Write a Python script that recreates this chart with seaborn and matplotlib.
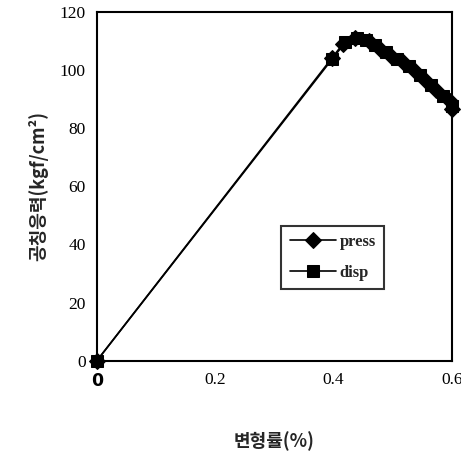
import numpy as np
import pandas as pd
import matplotlib
matplotlib.use('Agg')
import matplotlib.pyplot as plt
import seaborn as sns

# ── data ─────────────────────────────────────────────────────
press_strain = [0.0, 0.397, 0.416, 0.436, 0.460, 0.478, 0.497, 0.518, 0.537, 0.556, 0.574, 0.597, 0.600]
press_stress = [0.0, 104.0, 109.0, 110.9, 109.8, 107.2, 104.9, 102.6, 99.8, 96.3, 93.2, 89.4, 86.6]
disp_strain = [0.0, 0.398, 0.420, 0.440, 0.455, 0.470, 0.488, 0.507, 0.527, 0.546, 0.565, 0.585, 0.600]
disp_stress = [0.0, 103.8, 109.5, 111.0, 110.3, 108.6, 106.2, 103.8, 101.3, 98.2, 94.8, 91.2, 87.5]
x_ticks = [0, 0.2, 0.4, 0.6]
x_tick_labels = ['0', '0.2', '0.4', '0.6']
y_ticks = [0, 20, 40, 60, 80, 100, 120]

press = pd.DataFrame({'strain': press_strain, 'stress': press_stress})
disp = pd.DataFrame({'strain': disp_strain, 'stress': disp_stress})

sns.set_style('white')
plt.rcParams['font.family'] = ['Liberation Serif', 'Noto Sans CJK KR']

fig = plt.figure(figsize=(4.61, 4.55), dpi=100)
ax = fig.add_axes([0.210, 0.207, 0.770, 0.767])

sns.lineplot(data=press, x='strain', y='stress', ax=ax, color='black',
             marker='D', markersize=8.5, lw=1.2, sort=False, estimator=None,
             markeredgecolor='black', label='press', clip_on=False)
sns.lineplot(data=disp, x='strain', y='stress', ax=ax, color='black',
             marker='s', markersize=8.5, lw=1.2, sort=False, estimator=None,
             markeredgecolor='black', label='disp', clip_on=False)

ax.set_xlim(0, 0.6)
ax.set_ylim(0, 120)
ax.set_xticks(x_ticks)
ax.set_xticklabels(x_tick_labels)
ax.set_yticks(y_ticks)
ax.tick_params(direction='in', length=4, width=1.2, labelsize=12.5, colors='black', pad=8)
ax.get_xticklabels()[0].set_fontweight('bold')
ax.get_xticklabels()[0].set_family('DejaVu Sans')
for s in ax.spines.values():
    s.set_color('black')
    s.set_linewidth(1.5)

ax.set_xlabel('변형률(%)', family=['Noto Sans CJK KR'], fontweight='bold',
              fontsize=13, labelpad=30)
ax.set_ylabel('공칭응력(kgf/cm²)', family=['Noto Sans CJK KR'], fontweight='bold',
              fontsize=13, labelpad=8)

leg = ax.legend(loc='lower left', bbox_to_anchor=(0.52, 0.205), handlelength=2.8,
                frameon=True, fancybox=False, edgecolor='black',
                prop={'weight': 'bold', 'family': 'Liberation Serif', 'size': 12},
                borderpad=0.5, labelspacing=0.9, handletextpad=0.2,
                borderaxespad=0.0)
leg.get_frame().set_linewidth(1.5)

plt.savefig('out.png', dpi=100)
plt.close()
